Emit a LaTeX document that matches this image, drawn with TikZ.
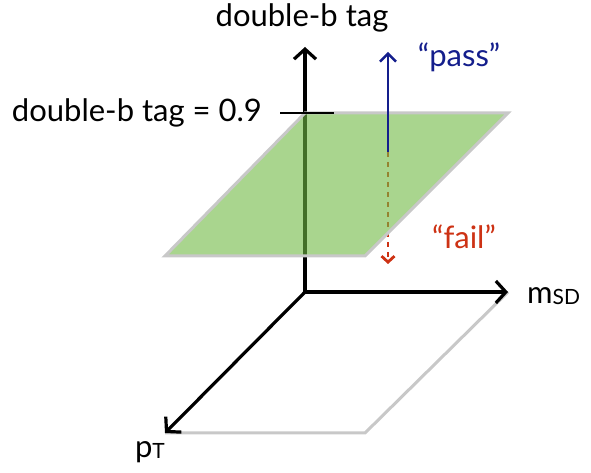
\documentclass[tikz,border=0pt]{standalone}
\usepackage{fontspec}
\setmainfont{Lato}
\definecolor{CutGreen}{RGB}{112,185,67}
\definecolor{EdgeGray}{RGB}{200,200,200}
\definecolor{PassBlue}{RGB}{20,30,140}
\definecolor{FailRed}{RGB}{205,50,20}
\usetikzlibrary{arrows.meta}
\tikzset{
  axisline/.style={line width=3.2pt, -{Straight Barb[length=10pt,width=22pt]}},
  planeedge/.style={draw=EdgeGray, line width=3pt, line join=miter},
  lab/.style={font=\fontsize{31}{37}\selectfont, inner sep=0pt},
}
\begin{document}
\begin{tikzpicture}[x=1pt,y=1pt]
\useasboundingbox (0,0) rectangle (591,473);
% axes
\coordinate (O) at (305,181);
\coordinate (tagtip) at (305,426);
\coordinate (mtip) at (508,181);
\coordinate (pttip) at (165,40);
\coordinate (lowcorner) at (365,40);
% cut plane corners
\coordinate (cutA) at (305,360);
\coordinate (cutB) at (508,360);
\coordinate (cutC) at (365,217);
\coordinate (cutD) at (165,217);
% pass / fail
\coordinate (split) at (388,321);
\coordinate (passtip) at (388,421);
\coordinate (failtip) at (388,209);
\coordinate (tickL) at (280,360);
\coordinate (tickR) at (334,360);

\draw[axisline] (O) -- (tagtip);
\draw[FailRed, line width=2.8pt, dash pattern=on 5pt off 5pt,
  -{Straight Barb[length=6pt,width=13pt]}] (split) -- (failtip);
\draw[planeedge, fill=CutGreen, fill opacity=0.6]
  (cutA) -- (cutB) -- (cutC) -- (cutD) -- cycle;
\draw[PassBlue, line width=2.4pt, -{Straight Barb[length=8pt,width=16pt]}] (split) -- (passtip);
\draw[line width=2.4pt] (tickL) -- (tickR);

\draw[planeedge] (mtip) -- (lowcorner) -- (pttip);
\draw[axisline] (O) -- (mtip);
\draw[axisline] (O) -- (pttip);

\node[lab] (taglab) at (302,455) {double-b tag};
\node[lab, anchor=east] (cutlab) at (262,360) {double-b tag = 0.9};
\node[lab, PassBlue] (passlab) at (459,416) {``pass''};
\node[lab, FailRed] (faillab) at (464,236) {``fail''};
\node[lab, anchor=west] (mlab) at (527,177) {m\raisebox{-1pt}{\fontsize{21}{25}\selectfont SD}};
\node[lab] (ptlab) at (150,21) {p\raisebox{-1pt}{\fontsize{21}{25}\selectfont T}};
\end{tikzpicture}
\end{document}
